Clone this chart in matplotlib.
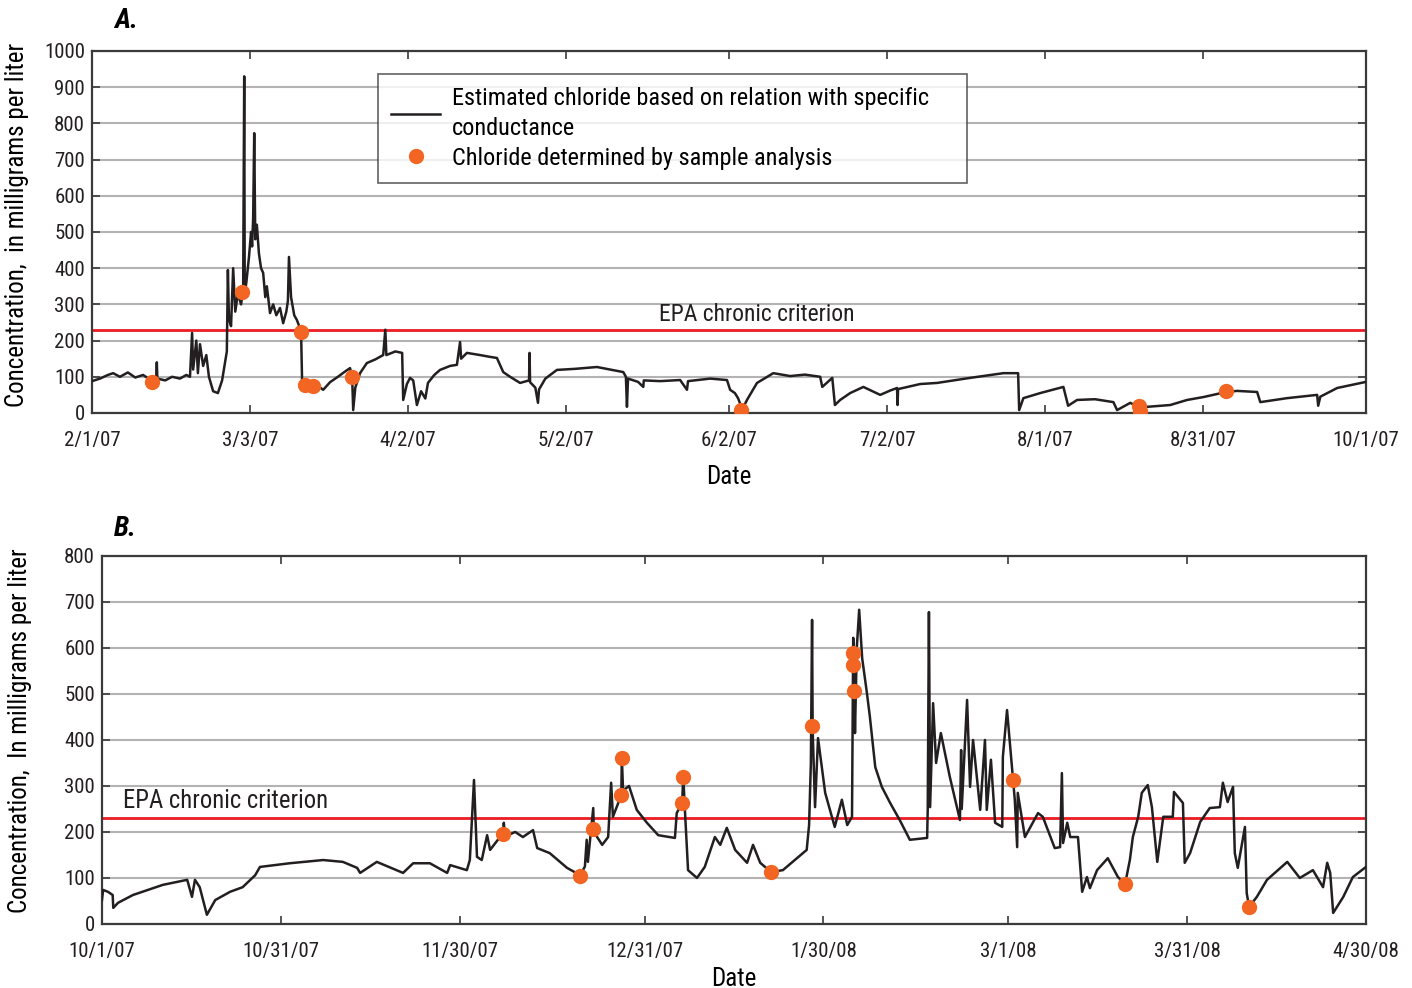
import pandas as pd
import matplotlib
matplotlib.use('Agg')
import matplotlib.pyplot as plt
from matplotlib import font_manager

# condensed face close to the original (Univers Condensed); fall back to DejaVu
installed = {f.name for f in font_manager.fontManager.ttflist}
candidates = ['Roboto Condensed', 'Archivo Narrow', 'PT Sans Narrow', 'Fira Sans Condensed',
              'IBM Plex Sans Condensed', 'Liberation Sans Narrow']
chosen = [c for c in candidates if c in installed][:1]
plt.rcParams['font.family'] = chosen + ['DejaVu Sans']

# ---- Panel A: Feb 1 - Oct 1, 2007 (days since 2/1/07) ----
a_days = [0, 1.5, 3.0, 4.0, 5.3, 6.8, 8.2, 9.7, 11.0, 12.2, 12.3, 12.4, 13.9, 15.2, 16.7,
          17.9, 18.6, 19.0, 19.2, 19.8, 20.1, 20.5, 21.1, 21.7, 22.2, 23.0, 23.9, 24.7,
          25.5, 25.6, 25.8, 26.0, 26.4, 26.8, 27.2, 27.7, 28.3, 28.7, 28.9, 29.0, 29.3,
          29.8, 30.2, 30.4, 30.6, 30.8, 31.0, 31.3, 31.7, 32.1, 32.5, 32.9, 33.2, 33.8,
          34.4, 35.0, 35.7, 36.3, 36.9, 37.2, 37.4, 37.8, 38.4, 38.9, 39.7, 39.9, 40.5,
          42.0, 42.9, 43.9, 45.2, 46.7, 48.1, 49.0, 49.4, 49.6, 50.0, 50.9, 52.2, 53.8,
          55.3, 55.7, 55.9, 57.6, 58.9, 59.1, 59.8, 60.4, 61.0, 61.7, 62.5, 63.3, 63.8,
          65.0, 66.1, 68.0, 69.3, 69.9, 70.1, 71.2, 73.7, 75.6, 76.9, 78.1, 79.4, 81.3,
          83.0, 83.1, 83.2, 84.2, 84.7, 84.9, 86.1, 88.3, 91.8, 95.9, 98.4, 100.9, 101.4,
          101.6, 101.8, 103.7, 104.7, 104.8, 107.9, 111.7, 113.0, 113.2, 117.4, 120.6,
          121.2, 122.1, 122.7, 123.5, 124.4, 126.3, 129.4, 132.6, 135.4, 138.3, 138.7,
          140.6, 141.1, 142.1, 144.0, 146.5, 149.7, 151.6, 152.9, 153.0, 153.1, 157.3,
          160.5, 166.8, 173.1, 175.9, 176.1, 176.9, 180.1, 184.5, 185.4, 187.1, 190.5,
          194.0, 194.7, 197.2, 199.1, 200.4, 204.8, 208.0, 211.1, 215.4, 217.5, 221.3,
          221.9, 227.0, 232.7, 232.9, 233.3, 236.5, 242.0]
a_chloride = [88, 95, 105, 110, 100, 112, 98, 105, 92, 100, 140, 95, 90, 100, 95,
              105, 100, 221, 120, 200, 110, 190, 130, 160, 100, 60, 55, 90,
              160, 170, 395, 260, 240, 400, 280, 330, 300, 340, 930, 330, 360,
              430, 500, 460, 540, 773, 480, 520, 440, 400, 387, 320, 350, 276,
              300, 270, 290, 248, 280, 310, 431, 320, 270, 257, 226, 83, 77,
              78, 75, 64, 85, 100, 115, 124, 100, 8, 70, 110, 138, 148,
              160, 230, 160, 170, 166, 36, 80, 97, 90, 22, 60, 40, 83,
              105, 119, 130, 133, 196, 150, 166, 160, 155, 152, 113, 100, 83,
              90, 166, 85, 70, 28, 65, 95, 119, 122, 127, 120, 113, 100,
              17, 95, 86, 72, 90, 88, 91, 64, 88, 95, 91,
              64, 55, 41, 10, 36, 83, 110, 102, 106, 100, 72,
              97, 22, 36, 55, 72, 50, 62, 69, 22, 66, 80,
              83, 97, 110, 110, 8, 41, 55, 72, 20, 36, 38,
              30, 8, 28, 14, 17, 22, 36, 44, 58, 61, 58,
              30, 41, 50, 20, 45, 69, 86]
a_sample_days = [11.4, 28.5, 39.7, 40.5, 42.0, 49.4, 123.3, 198.9, 199.1, 215.4]
a_sample_vals = [86, 334, 224, 77, 75, 99, 8, 19, 6, 61]
a_tick_dates = ['2007-02-01', '2007-03-03', '2007-04-02', '2007-05-02', '2007-06-02',
                '2007-07-02', '2007-08-01', '2007-08-31', '2007-10-01']
a_tick_labels = ['2/1/07', '3/3/07', '4/2/07', '5/2/07', '6/2/07', '7/2/07',
                 '8/1/07', '8/31/07', '10/1/07']

# ---- Panel B: Oct 1, 2007 - Apr 30, 2008 (days since 10/1/07) ----
b_days = [0, 0.2, 1.0, 1.8, 1.9, 2.7, 5.2, 10.2, 14.3, 15.1, 15.6, 16.4, 17.6, 19.0,
          21.5, 23.6, 25.7, 26.5, 31.5, 37.1, 40.4, 42.8, 43.3, 46.1, 50.5, 52.2, 55.0,
          57.9, 58.4, 61.2, 61.7, 62.4, 62.9, 63.7, 64.6, 65.1, 66.4, 67.3, 67.4, 67.6,
          69.3, 70.6, 72.3, 73.0, 75.1, 78.0, 80.2, 81.0, 81.3, 81.5, 82.4, 82.5, 83.9,
          84.9, 85.4, 85.7, 87.1, 87.2, 87.4, 88.4, 89.7, 91.4, 93.3, 96.1, 96.4, 97.3,
          97.5, 97.8, 98.3, 99.8, 101.1, 102.8, 103.7, 104.8, 106.2, 108.2, 109.2, 110.4,
          112.2, 114.2, 118.2, 118.6, 118.9, 119.1, 119.2, 119.6, 120.1, 121.3, 122.9,
          124.1, 125.0, 125.8, 126.0, 126.2, 126.3, 126.6, 127.0, 127.5, 128.3, 128.8,
          129.7, 130.8, 132.2, 133.8, 135.5, 138.4, 138.5, 138.7, 138.9, 139.4, 139.9,
          140.7, 142.2, 143.9, 144.1, 144.2, 145.1, 145.6, 146.1, 147.3, 148.1, 148.4,
          149.1, 149.8, 151.0, 151.1, 151.8, 152.8, 153.1, 153.5, 153.6, 154.8, 157.0,
          157.8, 159.8, 160.7, 161.0, 161.2, 161.9, 162.4, 163.7, 164.4, 165.2, 165.7,
          166.9, 168.7, 170.4, 171.6, 172.4, 172.9, 173.8, 174.4, 175.4, 176.1, 177.0,
          178.0, 179.6, 179.8, 181.3, 181.6, 182.5, 184.2, 185.8, 187.5, 188.0, 188.8,
          189.7, 190.0, 190.5, 191.7, 192.0, 192.4, 193.7, 195.4, 198.8, 200.9, 203.1,
          204.8, 205.5, 206.0, 206.5, 208.2, 209.8, 212.0]
b_chloride = [52, 74, 70, 63, 35, 46, 63, 85, 96, 59, 96, 80, 20, 52,
              70, 80, 106, 124, 132, 139, 135, 122, 111, 135, 111, 132, 132,
              111, 128, 117, 139, 313, 146, 139, 193, 161, 183, 193, 220, 190,
              200, 189, 204, 165, 154, 122, 106, 125, 183, 135, 252, 200, 172,
              189, 307, 233, 280, 361, 290, 300, 248, 220, 193, 187, 241, 263,
              320, 241, 117, 100, 124, 189, 172, 209, 161, 133, 172, 133,
              113, 117, 161, 215, 350, 661, 420, 254, 404, 285, 211,
              270, 215, 233, 622, 500, 415, 600, 683, 578, 502, 450,
              341, 298, 263, 226, 183, 187, 250, 678, 254, 480, 350,
              415, 320, 226, 378, 250, 487, 298, 400, 248, 400, 248,
              357, 220, 211, 363, 465, 313, 270, 167, 285, 189, 241,
              233, 165, 167, 328, 176, 220, 189, 189, 70, 102, 78,
              117, 143, 102, 87, 139, 189, 233, 285, 302, 254, 135,
              233, 233, 287, 263, 133, 154, 222, 252, 254, 307, 265,
              298, 154, 122, 211, 67, 37, 59, 96, 135, 100, 117,
              80, 133, 111, 24, 59, 102, 124]
b_sample_days = [67.3, 80.2, 82.4, 87.1, 87.2, 97.3, 97.5, 112.2, 119.1, 126.0, 126.0,
                 126.2, 152.8, 171.6, 192.4]
b_sample_vals = [196, 104, 207, 280, 361, 263, 320, 113, 430, 589, 563, 507, 313, 87, 37]
b_tick_dates = ['2007-10-01', '2007-10-31', '2007-11-30', '2007-12-31', '2008-01-30',
                '2008-03-01', '2008-03-31', '2008-04-30']
b_tick_labels = ['10/1/07', '10/31/07', '11/30/07', '12/31/07', '1/30/08', '3/1/08',
                 '3/31/08', '4/30/08']

epa_criterion = 230

line_color = '#231f20'
dot_color = '#f26522'
red = '#ed1c24'
grid_color = '#b3b3b3'
spine_color = '#3a3a3a'


def to_dates(start, days):
    return pd.Timestamp(start) + pd.to_timedelta(pd.Series(days), unit='D')


def style_axes(ax, ymax, start, end, tick_dates, tick_labels):
    ax.set_xlim(pd.Timestamp(start), pd.Timestamp(end))
    ax.set_ylim(0, ymax)
    ax.set_yticks(range(0, ymax + 1, 100))
    ax.set_xticks(pd.to_datetime(tick_dates))
    ax.set_xticklabels(tick_labels)
    ax.yaxis.grid(True, color=grid_color, linewidth=1.5)
    ax.set_axisbelow(True)
    ax.tick_params(direction='in', top=True, right=True, length=6, width=1.2,
                   color=spine_color, labelsize=15, labelcolor='#231f20')
    ax.tick_params(axis='x', pad=13)
    ax.tick_params(axis='y', pad=5)
    for s in ax.spines.values():
        s.set_color(spine_color)
        s.set_linewidth(1.6)


fig = plt.figure(figsize=(14.12, 9.88), dpi=100)

# Panel A
ax1 = fig.add_axes([0.0652, 0.582, 0.9023, 0.3664])
ax1.plot(to_dates('2007-02-01', a_days), a_chloride, color=line_color, linewidth=1.8,
         label='Estimated chloride based on relation with specific\nconductance', zorder=3)
ax1.axhline(epa_criterion, color=red, linewidth=2, zorder=2)
ax1.plot(to_dates('2007-02-01', a_sample_days), a_sample_vals, 'o', color=dot_color,
         markersize=10, label='Chloride determined by sample analysis', zorder=4)
style_axes(ax1, 1000, '2007-02-01', '2007-10-01', a_tick_dates, a_tick_labels)
ax1.text(pd.Timestamp('2007-06-07 08:00'), 240, 'EPA chronic criterion', fontsize=17,
         ha='center', va='bottom', color='#231f20')
ax1.set_xlabel('Date', fontsize=18, labelpad=11)
ax1.set_ylabel('Concentration,  in milligrams per liter', fontsize=18)
ax1.yaxis.set_label_coords(-0.0495, 0.52)
leg = ax1.legend(loc='upper left', bbox_to_anchor=(0.2245, 0.5, 0.4623, 0.4365),
                 mode='expand', fontsize=17.5, frameon=True, fancybox=False,
                 handlelength=2.0, borderpad=0.55, labelspacing=0.3, handletextpad=0.5,
                 borderaxespad=0)
for t in leg.get_texts():
    t.set_linespacing(1.35)
leg.get_frame().set_edgecolor(spine_color)
leg.get_frame().set_linewidth(1.2)

# Panel B
ax2 = fig.add_axes([0.0722, 0.0648, 0.8952, 0.3725])
ax2.plot(to_dates('2007-10-01', b_days), b_chloride, color=line_color, linewidth=1.8, zorder=3)
ax2.axhline(epa_criterion, color=red, linewidth=2, zorder=2)
ax2.plot(to_dates('2007-10-01', b_sample_days), b_sample_vals, 'o', color=dot_color,
         markersize=10, zorder=4)
style_axes(ax2, 800, '2007-10-01', '2008-04-30', b_tick_dates, b_tick_labels)
ax2.text(pd.Timestamp('2007-10-04 12:00'), 267, 'EPA chronic criterion', fontsize=17.8,
         ha='left', va='center', color='#231f20')
ax2.set_xlabel('Date', fontsize=18, labelpad=4)
ax2.set_ylabel('Concentration,  In milligrams per liter', fontsize=18)
ax2.yaxis.set_label_coords(-0.0555, 0.524)

fig.text(0.081, 0.979, 'A.', fontsize=20, fontweight='bold', fontstyle='italic',
         va='center', ha='left')
fig.text(0.081, 0.465, 'B.', fontsize=20, fontweight='bold', fontstyle='italic',
         va='center', ha='left')

fig.savefig('out.png', dpi=100)
